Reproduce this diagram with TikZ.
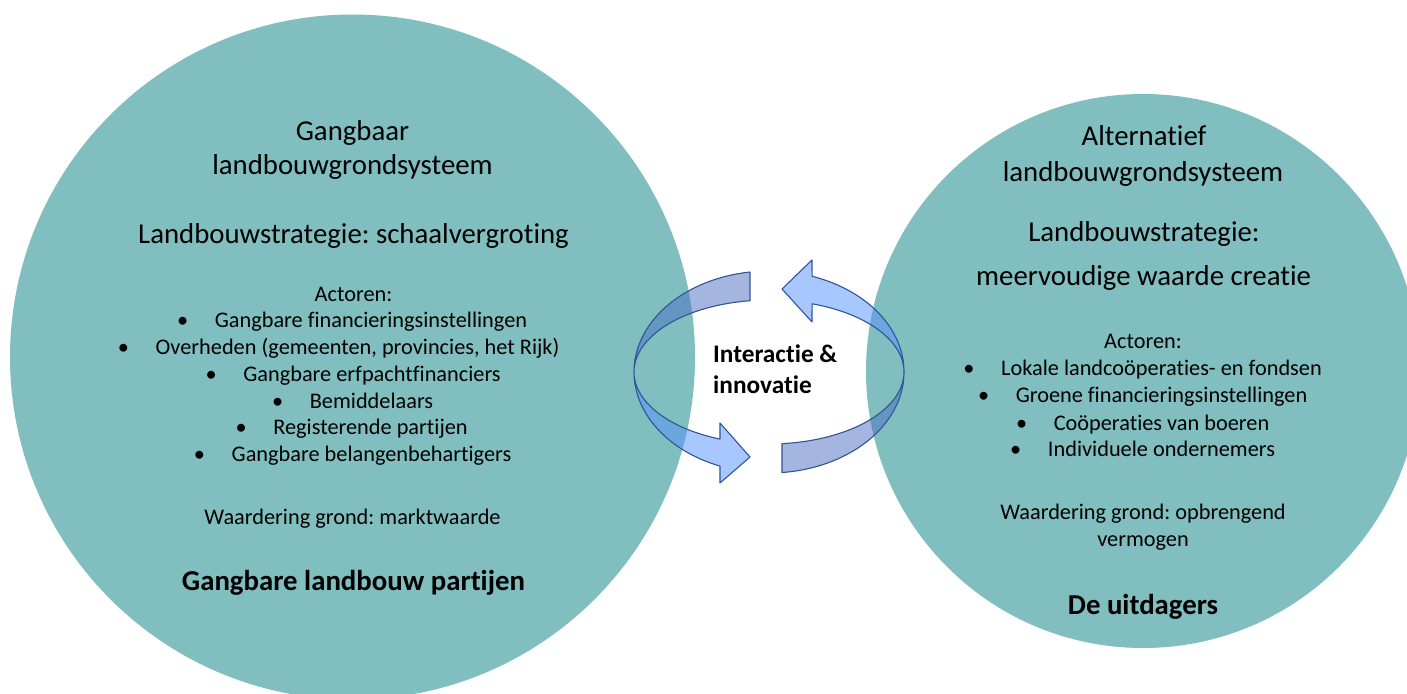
\documentclass[tikz,border=0pt]{standalone}
\usepackage{fontspec}
\setmainfont{Carlito}[Ligatures={NoCommon,NoContextual,NoRare},RawFeature=-calt]
\frenchspacing
\definecolor{circlefill}{RGB}{129,190,191}
\definecolor{arrowline}{RGB}{47,85,151}
\definecolor{arrowlight}{RGB}{85,145,255}
\definecolor{arrowdark}{RGB}{75,111,195}
\begin{document}
\begin{tikzpicture}[x=1pt,y=-1pt,
    big/.style={anchor=base,inner sep=0pt,font=\fontsize{28.8}{34}\selectfont},
    bigbold/.style={anchor=base,inner sep=0pt,font=\fontsize{28.8}{34}\selectfont\bfseries},
    small/.style={anchor=base,inner sep=0pt,font=\fontsize{22.3}{27}\selectfont},
    midbold/.style={anchor=base west,inner sep=0pt,font=\fontsize{25.3}{31}\selectfont\bfseries},
    ring/.style={fill opacity=0.5,draw=none}]
                \useasboundingbox (0,0) rectangle (1407,693);
                \fill[white] (0,0) rectangle (1407,693);
                % the two systems
                \node[circle,fill=circlefill,inner sep=0pt,
                    minimum size=685pt] (1) at (352.5,357) {};
                \node[circle,fill=circlefill,inner sep=0pt,
                    minimum size=554pt] (2) at (1143,371) {};
                % left circle
                \node[big] (g1) at (352.5,140) {Gangbaar};
                \node[big] (g2) at (352.5,174) {landbouwgrondsysteem};
                \node[big] (g3) at (353.5,243) {Landbouwstrategie: schaalvergroting};
                \node[small] (g4) at (353.5,301) {Actoren:};
                \node[small] (l1) at (371,327.5) {Gangbare financieringsinstellingen};
                \node[small] (l2) at (357.5,354) {Overheden (gemeenten, provincies, het Rijk)};
                \node[small] (l3) at (372,381) {Gangbare erfpachtfinanciers};
                \node[small] (l4) at (371.5,408) {Bemiddelaars};
                \node[small] (l5) at (370.5,434.5) {Registerende partijen};
                \node[small] (l6) at (371.5,461) {Gangbare belangenbehartigers};
                \node[small] (lb1) at ([xshift=-32pt]l1.base west) {•};
                \node[small] (lb2) at ([xshift=-32pt]l2.base west) {•};
                \node[small] (lb3) at ([xshift=-32pt]l3.base west) {•};
                \node[small] (lb4) at ([xshift=-32pt]l4.base west) {•};
                \node[small] (lb5) at ([xshift=-32pt]l5.base west) {•};
                \node[small] (lb6) at ([xshift=-32pt]l6.base west) {•};
                \node[small] (g5) at (352.5,524) {Waardering grond: marktwaarde};
                \node[bigbold] (g6) at (353.5,590) {Gangbare landbouw partijen};
                % right circle
                \node[big] (a1) at (1144,145) {Alternatief};
                \node[big] (a2) at (1143,181) {landbouwgrondsysteem};
                \node[big] (a3) at (1144,241) {Landbouwstrategie:};
                \node[big] (a4) at (1143.5,285) {meervoudige waarde creatie};
                \node[small] (a5) at (1143,348) {Actoren:};
                \node[small] (r1) at (1161.5,375) {Lokale landcoöperaties- en fondsen};
                \node[small] (r2) at (1161.5,402.5) {Groene financieringsinstellingen};
                \node[small] (r3) at (1161.5,430) {Coöperaties van boeren};
                \node[small] (r4) at (1161.5,456.5) {Individuele ondernemers};
                \node[small] (rb1) at ([xshift=-32pt]r1.base west) {•};
                \node[small] (rb2) at ([xshift=-32pt]r2.base west) {•};
                \node[small] (rb3) at ([xshift=-32pt]r3.base west) {•};
                \node[small] (rb4) at ([xshift=-32pt]r4.base west) {•};
                \node[small] (a6) at (1143,519) {Waardering grond: opbrengend};
                \node[small] (a7) at (1143,546) {vermogen};
                \node[bigbold] (a8) at (1143,614) {De uitdagers};
                % circular arrows
                \fill[ring,fill=arrowdark] plot[domain=261.9:180,samples=40] ({769+135*cos(\x)},{372+101*sin(\x)})
                    -- plot[domain=180:261.9,samples=40] ({769+135*cos(\x)},{372+72*sin(\x)}) -- cycle;
                \fill[ring,fill=arrowlight] plot[domain=180:111.3,samples=40] ({769+135*cos(\x)},{372+101*sin(\x)})
                    -- (720,483) -- (750,457) -- (720,423)
                    -- plot[domain=111.3:180,samples=40] ({769+135*cos(\x)},{372+72*sin(\x)}) -- cycle;
                \draw[arrowline,line width=1.1pt,line join=round] plot[domain=261.9:111.3,samples=80] ({769+135*cos(\x)},{372+101*sin(\x)})
                    -- (720,483) -- (750,457) -- (720,423)
                    -- plot[domain=111.3:261.9,samples=80] ({769+135*cos(\x)},{372+72*sin(\x)}) -- cycle;
                \fill[ring,fill=arrowdark] plot[domain=84.5:0,samples=40] ({769+135*cos(\x)},{372+101*sin(\x)})
                    -- plot[domain=0:84.5,samples=40] ({769+135*cos(\x)},{372+72*sin(\x)}) -- cycle;
                \fill[ring,fill=arrowlight] plot[domain=0:-71.4,samples=40] ({769+135*cos(\x)},{372+101*sin(\x)})
                    -- (812,260) -- (782,289) -- (812,322)
                    -- plot[domain=-71.4:0,samples=40] ({769+135*cos(\x)},{372+72*sin(\x)}) -- cycle;
                \draw[arrowline,line width=1.1pt,line join=round] plot[domain=84.5:-71.4,samples=80] ({769+135*cos(\x)},{372+101*sin(\x)})
                    -- (812,260) -- (782,289) -- (812,322)
                    -- plot[domain=-71.4:84.5,samples=80] ({769+135*cos(\x)},{372+72*sin(\x)}) -- cycle;
                \node[midbold] (c1) at (713,362.7) {Interactie \&};
                \node[midbold] (c2) at (713,393) {innovatie};
            \end{tikzpicture}
\end{document}
